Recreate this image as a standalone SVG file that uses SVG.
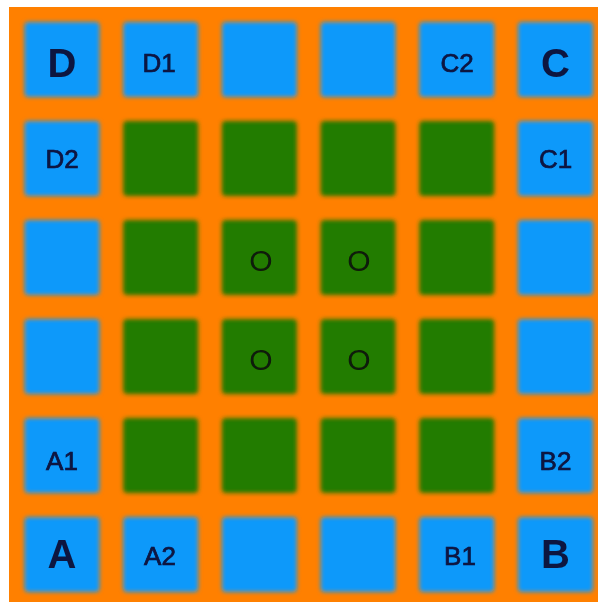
<svg xmlns="http://www.w3.org/2000/svg" width="598" height="602" viewBox="0 0 598 602">
<defs>
<filter id="soft" x="-10%" y="-10%" width="120%" height="120%"><feGaussianBlur stdDeviation="2.2"/></filter>
<filter id="tsoft" x="-10%" y="-10%" width="120%" height="120%"><feGaussianBlur stdDeviation="0.45"/></filter>
</defs>
<style>
.b{fill:#0b99fa;filter:url(#soft)}
.g{fill:#247c03;filter:url(#soft)}
.big{font-family:"Liberation Sans",Arial,sans-serif;font-size:40px;font-weight:bold;fill:#0a1440;text-anchor:middle;filter:url(#tsoft)}
.lbl{font-family:"Liberation Sans",Arial,sans-serif;font-size:26px;fill:#0a1440;stroke:#0a1440;stroke-width:0.7px;text-anchor:middle;filter:url(#tsoft)}
.o{font-family:"Liberation Sans",Arial,sans-serif;font-size:30px;fill:#0f1a08;text-anchor:middle;filter:url(#tsoft)}
</style>
<rect width="598" height="602" fill="#ffffff"/>
<rect x="9" y="7" width="589" height="595" fill="#ff8000"/>
<g id="cells">
<g id="r1c1"><rect class="b" x="24.5" y="22" width="75" height="75" rx="4"/><text class="big" x="62" y="77">D</text></g>
<g id="r1c2"><rect class="b" x="123.2" y="22" width="75" height="75" rx="4"/><text class="lbl" x="159" y="72">D1</text></g>
<g id="r1c3"><rect class="b" x="221.9" y="22" width="75" height="75" rx="4"/></g>
<g id="r1c4"><rect class="b" x="320.6" y="22" width="75" height="75" rx="4"/></g>
<g id="r1c5"><rect class="b" x="419.3" y="22" width="75" height="75" rx="4"/><text class="lbl" x="457" y="72">C2</text></g>
<g id="r1c6"><rect class="b" x="518" y="22" width="75" height="75" rx="4"/><text class="big" x="555.5" y="77">C</text></g>

<g id="r2c1"><rect class="b" x="24.5" y="121" width="75" height="75" rx="4"/><text class="lbl" x="62" y="168">D2</text></g>
<g id="r2c2"><rect class="g" x="123.2" y="121" width="75" height="75" rx="4"/></g>
<g id="r2c3"><rect class="g" x="221.9" y="121" width="75" height="75" rx="4"/></g>
<g id="r2c4"><rect class="g" x="320.6" y="121" width="75" height="75" rx="4"/></g>
<g id="r2c5"><rect class="g" x="419.3" y="121" width="75" height="75" rx="4"/></g>
<g id="r2c6"><rect class="b" x="518" y="121" width="75" height="75" rx="4"/><text class="lbl" x="555.5" y="168">C1</text></g>

<g id="r3c1"><rect class="b" x="24.5" y="220" width="75" height="75" rx="4"/></g>
<g id="r3c2"><rect class="g" x="123.2" y="220" width="75" height="75" rx="4"/></g>
<g id="r3c3"><rect class="g" x="221.9" y="220" width="75" height="75" rx="4"/><text class="o" x="261" y="271">O</text></g>
<g id="r3c4"><rect class="g" x="320.6" y="220" width="75" height="75" rx="4"/><text class="o" x="359" y="271">O</text></g>
<g id="r3c5"><rect class="g" x="419.3" y="220" width="75" height="75" rx="4"/></g>
<g id="r3c6"><rect class="b" x="518" y="220" width="75" height="75" rx="4"/></g>

<g id="r4c1"><rect class="b" x="24.5" y="319" width="75" height="75" rx="4"/></g>
<g id="r4c2"><rect class="g" x="123.2" y="319" width="75" height="75" rx="4"/></g>
<g id="r4c3"><rect class="g" x="221.9" y="319" width="75" height="75" rx="4"/><text class="o" x="261" y="370">O</text></g>
<g id="r4c4"><rect class="g" x="320.6" y="319" width="75" height="75" rx="4"/><text class="o" x="359" y="370">O</text></g>
<g id="r4c5"><rect class="g" x="419.3" y="319" width="75" height="75" rx="4"/></g>
<g id="r4c6"><rect class="b" x="518" y="319" width="75" height="75" rx="4"/></g>

<g id="r5c1"><rect class="b" x="24.5" y="418" width="75" height="75" rx="4"/><text class="lbl" x="62" y="470">A1</text></g>
<g id="r5c2"><rect class="g" x="123.2" y="418" width="75" height="75" rx="4"/></g>
<g id="r5c3"><rect class="g" x="221.9" y="418" width="75" height="75" rx="4"/></g>
<g id="r5c4"><rect class="g" x="320.6" y="418" width="75" height="75" rx="4"/></g>
<g id="r5c5"><rect class="g" x="419.3" y="418" width="75" height="75" rx="4"/></g>
<g id="r5c6"><rect class="b" x="518" y="418" width="75" height="75" rx="4"/><text class="lbl" x="555.5" y="470">B2</text></g>

<g id="r6c1"><rect class="b" x="24.5" y="517" width="75" height="75" rx="4"/><text class="big" x="62" y="568">A</text></g>
<g id="r6c2"><rect class="b" x="123.2" y="517" width="75" height="75" rx="4"/><text class="lbl" x="160" y="565">A2</text></g>
<g id="r6c3"><rect class="b" x="221.9" y="517" width="75" height="75" rx="4"/></g>
<g id="r6c4"><rect class="b" x="320.6" y="517" width="75" height="75" rx="4"/></g>
<g id="r6c5"><rect class="b" x="419.3" y="517" width="75" height="75" rx="4"/><text class="lbl" x="460" y="565">B1</text></g>
<g id="r6c6"><rect class="b" x="518" y="517" width="75" height="75" rx="4"/><text class="big" x="555.5" y="568">B</text></g>
</g>
<g id="connectors"/>
</svg>
